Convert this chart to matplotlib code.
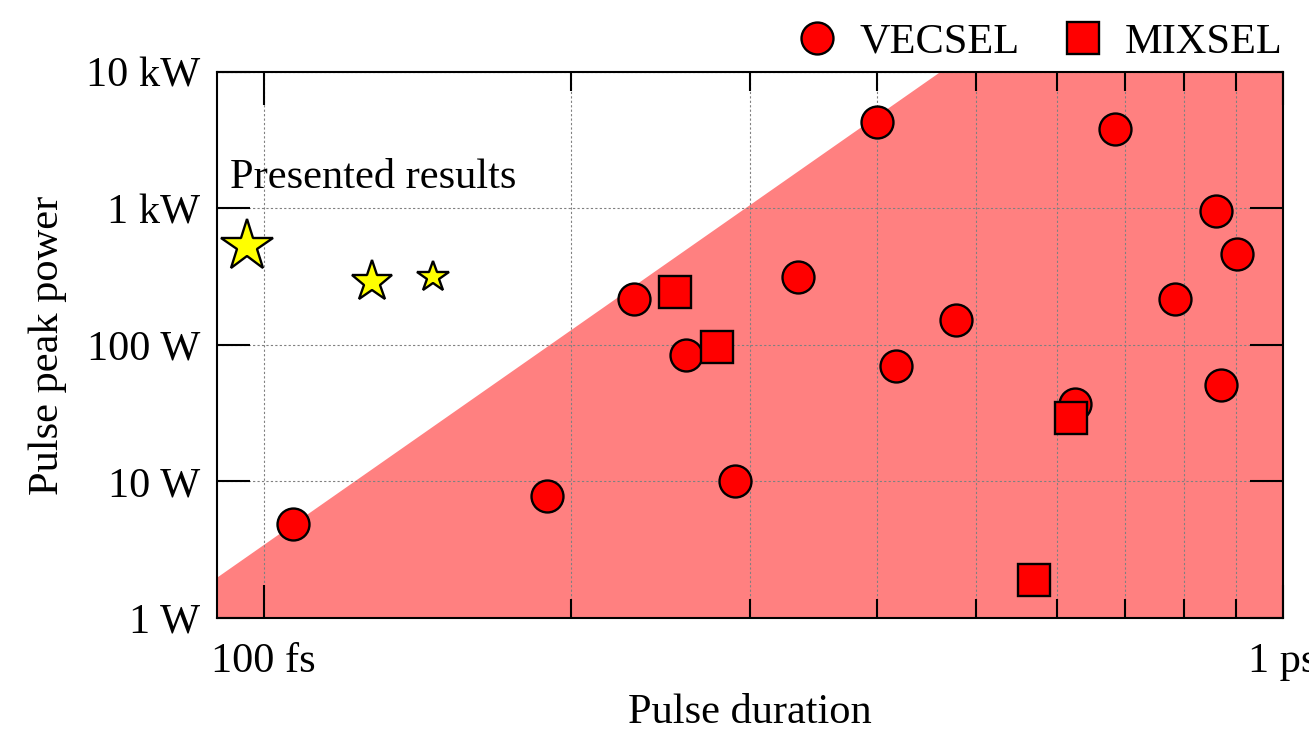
import numpy as np
import matplotlib
matplotlib.use("Agg")
import matplotlib.pyplot as plt
from matplotlib.ticker import FixedLocator, NullLocator, NullFormatter

plt.rcParams['font.family'] = ['Liberation Serif', 'DejaVu Serif']
plt.rcParams['font.size'] = 30.5

# VECSEL results (pulse duration in fs, peak power in W)
vecsel_tau = [106.8, 189.6, 230.8, 259.5, 289.9, 334.2, 399.6, 417.2, 477.6,
              625.2, 684.0, 783.4, 859.5, 869.4, 901.4]
vecsel_power = [4.88, 7.83, 217, 84.5, 10.1, 315, 4300, 70.2, 152,
                36.9, 3820, 217, 959, 50.9, 464]

# MIXSEL results
mixsel_tau = [253.2, 278.4, 619.4, 569.6]
mixsel_power = [244, 96.7, 29.2, 1.90]

# presented results (stars)
star_tau = [96.4, 127.6, 146.5]
star_power = [531, 290, 315]
star_size = [39, 31, 23.5]

# boundary of the shaded region
edge_tau = [90, 460, 1000]
edge_power = [2.0, 10000, 10000]

yticks = [1, 10, 100, 1000, 10000]
ytick_labels = ['1 W', '10 W', '100 W', '1 kW', '10 kW']
xticks = [100, 1000]
xtick_labels = ['100 fs', '1 ps']
xminor = [200, 300, 400, 500, 600, 700, 800, 900]

fig = plt.figure(figsize=(13.09, 7.37), dpi=100)
ax = fig.add_axes([0.1658, 0.1615, 0.8143, 0.7408])
ax.set_xscale('log')
ax.set_yscale('log')
ax.set_xlim(90, 1000)
ax.set_ylim(1, 10000)

ax.fill_between(edge_tau, edge_power, 1, color='#ff8080', lw=0, zorder=0.2)

ax.plot(vecsel_tau, vecsel_power, ls='none', marker='o', ms=23, mfc='red',
        mec='black', mew=1.7, zorder=3, label='VECSEL')
ax.plot(mixsel_tau, mixsel_power, ls='none', marker='s', ms=22.5, mfc='red',
        mec='black', mew=1.7, zorder=3, label='MIXSEL')
for t, p, s in zip(star_tau, star_power, star_size):
    ax.plot(t, p, ls='none', marker='*', ms=s, mfc='yellow', mec='black',
            mew=1.7, zorder=3)

ax.text(92.6, 1672, 'Presented results', ha='left', va='center')

ax.xaxis.set_major_locator(FixedLocator(xticks))
ax.set_xticklabels(xtick_labels)
ax.xaxis.set_minor_locator(FixedLocator(xminor))
ax.xaxis.set_minor_formatter(NullFormatter())
ax.yaxis.set_major_locator(FixedLocator(yticks))
ax.set_yticklabels(ytick_labels)
ax.yaxis.set_minor_locator(NullLocator())

ax.tick_params(which='both', direction='in', top=True, right=True, width=1.5)
ax.tick_params(which='major', length=24)
ax.tick_params(which='minor', length=14)
ax.tick_params(axis='x', which='major', pad=18)
ax.tick_params(axis='y', which='major', pad=12)

ax.set_axisbelow(True)
ax.grid(True, which='both', axis='x', color='gray', ls=(0, (2, 2)), lw=0.8)
ax.grid(True, which='major', axis='y', color='gray', ls=(0, (2, 2)), lw=0.8)
for sp in ax.spines.values():
    sp.set_linewidth(1.5)

ax.set_xlabel('Pulse duration', labelpad=9)
ax.set_ylabel('Pulse peak power', labelpad=14)

ax.legend(loc='lower right', bbox_to_anchor=(1.0, 1.019), ncol=2, frameon=False,
          borderaxespad=0.0, handlelength=1.0, handletextpad=0.5,
          columnspacing=1.0, numpoints=1, borderpad=0.0)

fig.savefig('out.png', dpi=100)
